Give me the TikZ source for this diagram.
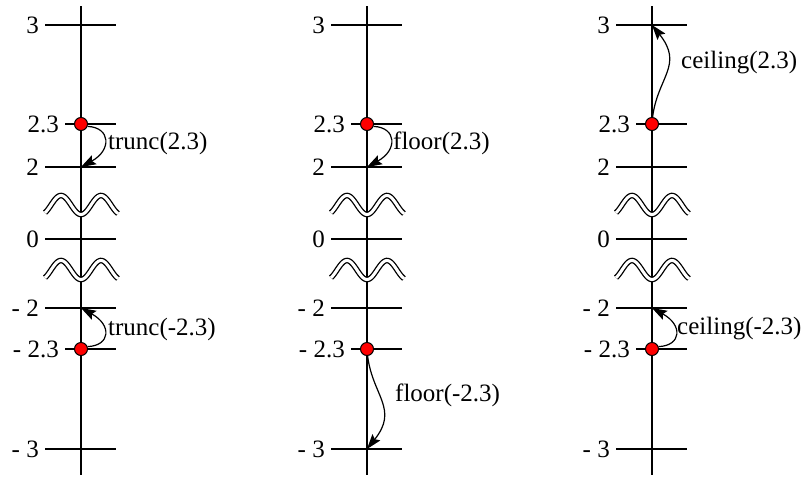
\documentclass[tikz,border=0pt]{standalone}
\usepackage{fontspec}
\setmainfont{Liberation Serif}
\usetikzlibrary{arrows.meta}

\tikzset{
	axisline/.style={line width=1.4pt},
	ticklabel/.style={anchor=east, inner xsep=6pt, inner ysep=0pt},
	breakmark/.style={double, double distance=3pt, line width=1.3pt},
	hit/.style={circle, draw, fill=red, minimum size=13pt, inner sep=0pt, line width=1pt},
	fname/.style={anchor=west, inner sep=0pt},
	roundarrow/.style={-{Stealth[length=15pt,width=10pt,inset=2.5pt]}, line width=1.2pt},
}

\begin{document}
\begin{tikzpicture}[x=1pt, y=-1pt, font=\fontsize{25}{30}\selectfont]
		\useasboundingbox (0,0) rectangle (809,480);
		% three number lines
		\foreach \cx/\k in {81/a, 367/b, 652/c} {
			\draw[axisline] (\cx,6) -- (\cx,475);
			\foreach \ty/\tl/\tn/\ts in {25/3/p3/-36, 124/2.3/p23/-16, 167/2/p2/-36, 239/0/z/-36, 308/- 2/m2/-36, 349/- 2.3/m23/-16, 449/- 3/m3/-36} {
				\coordinate (\k-\tn) at (\cx,\ty);
				\node[ticklabel] (\k-l\tn) at (\cx+\ts,\ty) {\tl};
				\draw[axisline] (\k-l\tn.east) -- (\cx+35,\ty);
			}
			\draw[breakmark, domain=-36:37, samples=60, smooth, variable=\t] plot ({\cx+\t},{205-9.5*cos(9*(\t+20))});
			\draw[breakmark, domain=-36:37, samples=60, smooth, variable=\t] plot ({\cx+\t},{270-9.5*cos(9*(\t+20))});
			\node[hit] (\k-up) at (\k-p23) {};
			\node[hit] (\k-dn) at (\k-m23) {};
		}
		% trunc
		\draw[roundarrow] (a-up.-20) .. controls +(23,1) and +(31,-17) .. (a-p2);
		\draw[roundarrow] (a-dn.20) .. controls +(23,-1) and +(31,17) .. (a-m2);
		\node[fname] at (108,143) {trunc(2.3)};
		\node[fname] at (108,329) {trunc(-2.3)};
		% floor
		\draw[roundarrow] (b-up.-20) .. controls +(23,1) and +(31,-17) .. (b-p2);
		\draw[roundarrow] (b-dn.-85) .. controls +(5,40) and +(32,-40) .. (b-m3);
		\node[fname] at (393,143) {floor(2.3)};
		\node[fname] at (395,395) {floor(-2.3)};
		% ceiling
		\draw[roundarrow] (c-up.85) .. controls +(5,-40) and +(32,40) .. (c-p3);
		\draw[roundarrow] (c-dn.20) .. controls +(23,-1) and +(31,17) .. (c-m2);
		\node[fname] at (681,63) {ceiling(2.3)};
		\node[fname] at (677,329) {ceiling(-2.3)};
	\end{tikzpicture}
\end{document}
